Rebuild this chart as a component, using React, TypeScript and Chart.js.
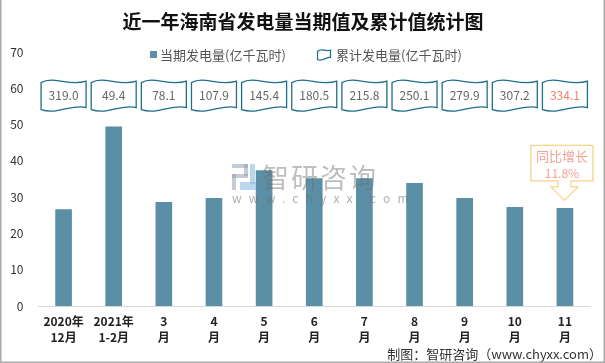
import React, { useEffect, useRef } from "react";
import { Chart, registerables } from "chart.js";

Chart.register(...registerables);

const FONT = "'Noto Sans CJK SC', 'Noto Sans', sans-serif";

const titleText = "近一年海南省发电量当期值及累计值统计图";
const legendCurrent = "当期发电量(亿千瓦时)";
const legendCumulative = "累计发电量(亿千瓦时)";
const footerText = "制图：智研咨询（www.chyxx.com）";
const watermarkName = "智研咨询";
const watermarkUrl = "www.chyxx.com";

const categories: string[][] = [
  ["2020年", "12月"],
  ["2021年", "1-2月"],
  ["3", "月"],
  ["4", "月"],
  ["5", "月"],
  ["6", "月"],
  ["7", "月"],
  ["8", "月"],
  ["9", "月"],
  ["10", "月"],
  ["11", "月"],
];

const currentValues = [26.6, 49.4, 28.6, 29.7, 37.3, 35.1, 35.1, 33.8, 29.7, 27.2, 26.9];
const cumulativeValues = [319.0, 49.4, 78.1, 107.9, 145.4, 180.5, 215.8, 250.1, 279.9, 307.2, 334.1];
const yTickValues = [0, 10, 20, 30, 40, 50, 60, 70];
const growthLines = ["同比增长", "11.8%"];

const BAR_COLOR = "#5b8fa6";
const FLAG_COLOR = "#1f6e8c";

function flagPath(ctx: CanvasRenderingContext2D, x0: number, y0: number, w: number, h: number, a = 3.3) {
  ctx.beginPath();
  ctx.moveTo(x0, y0 + 2);
  ctx.bezierCurveTo(x0 + w * 0.28, y0 - a * 1.6, x0 + w * 0.62, y0 + a * 1.9, x0 + w, y0 + 0.5);
  ctx.lineTo(x0 + w, y0 + h - 2);
  ctx.bezierCurveTo(x0 + w * 0.72, y0 + h - a * 2.0, x0 + w * 0.38, y0 + h + a * 1.7, x0, y0 + h);
  ctx.closePath();
}

const decorPlugin = {
  id: "decor",
  afterDatasetsDraw(chart: any) {
    const ctx: CanvasRenderingContext2D = chart.ctx;
    ctx.save();
    ctx.fillStyle = "rgba(150,160,180,0.55)";
    ctx.fillRect(232, 164, 16, 4);
    ctx.fillRect(244, 164, 4, 12);
    ctx.fillRect(232, 174, 16, 4);
    ctx.fillRect(232, 174, 4, 16);
    ctx.fillStyle = "rgba(140,190,225,0.6)";
    ctx.fillRect(240, 182, 16, 8);
    ctx.fillRect(250, 164, 5, 20);
    ctx.fillStyle = "rgba(110,110,110,0.45)";
    ctx.font = `27px ${FONT}`;
    ctx.textBaseline = "middle";
    ctx.textAlign = "left";
    (ctx as any).letterSpacing = "2px";
    ctx.fillText(watermarkName, 262, 178);
    ctx.font = `12px ${FONT}`;
    (ctx as any).letterSpacing = "7.2px";
    ctx.fillStyle = "rgba(110,110,110,0.55)";
    ctx.fillText(watermarkUrl, 232, 198);
    (ctx as any).letterSpacing = "0px";
    ctx.restore();
  },
  afterDraw(chart: any) {
    const ctx: CanvasRenderingContext2D = chart.ctx;
    const xs = chart.scales.x;
    const ys = chart.scales.y;
    ctx.save();

    ctx.fillStyle = "#111";
    ctx.font = `bold 19px ${FONT}`;
    ctx.textAlign = "center";
    ctx.textBaseline = "middle";
    ctx.fillText(titleText, 303, 22);

    ctx.font = `13px ${FONT}`;
    ctx.textAlign = "left";
    ctx.fillStyle = BAR_COLOR;
    ctx.fillRect(150, 51, 7, 7);
    ctx.fillStyle = "#555";
    ctx.fillText(legendCurrent, 160, 55);
    ctx.strokeStyle = FLAG_COLOR;
    ctx.lineWidth = 1.2;
    flagPath(ctx, 317.5, 49.5, 13, 10, 1.5);
    ctx.stroke();
    ctx.fillStyle = "#555";
    ctx.fillText(legendCumulative, 336, 55);

    const fy = ys.getPixelForValue(58.1);
    const fw = 45;
    const fh = 29;
    cumulativeValues.forEach((v, i) => {
      const cx = xs.getPixelForValue(i);
      const x0 = cx - fw / 2;
      const y0 = fy - fh / 2;
      flagPath(ctx, x0, y0, fw, fh);
      ctx.fillStyle = "#fff";
      ctx.fill();
      ctx.strokeStyle = FLAG_COLOR;
      ctx.lineWidth = 1.3;
      ctx.stroke();
      ctx.fillStyle = i === cumulativeValues.length - 1 ? "#f0826c" : "#666";
      ctx.font = `12px ${FONT}`;
      ctx.textAlign = "center";
      ctx.textBaseline = "middle";
      ctx.fillText(v.toFixed(1), cx, fy + 0.5);
    });

    const li = currentValues.length - 1;
    const lx = xs.getPixelForValue(li);
    const tipY = ys.getPixelForValue(currentValues[li]) - 8;
    const bx0 = lx - 34;
    const bx1 = lx + 28;
    const by0 = tipY - 55;
    const by1 = tipY - 19.5;
    const neckL = lx - 7;
    const neckR = lx + 6;
    const headY = by1 + 6;
    ctx.beginPath();
    ctx.moveTo(bx0, by0);
    ctx.lineTo(bx1, by0);
    ctx.lineTo(bx1, by1);
    ctx.lineTo(neckR, by1);
    ctx.lineTo(neckR, headY);
    ctx.lineTo(lx + 13, headY);
    ctx.lineTo(lx - 0.5, tipY);
    ctx.lineTo(lx - 14, headY);
    ctx.lineTo(neckL, headY);
    ctx.lineTo(neckL, by1);
    ctx.lineTo(bx0, by1);
    ctx.closePath();
    ctx.fillStyle = "#fff";
    ctx.fill();
    ctx.strokeStyle = "#f7d58a";
    ctx.lineWidth = 1.3;
    ctx.stroke();
    ctx.fillStyle = "#f4a294";
    ctx.font = `13px ${FONT}`;
    ctx.textAlign = "center";
    ctx.fillText(growthLines[0], (bx0 + bx1) / 2, by0 + 11);
    ctx.font = `12px ${FONT}`;
    ctx.fillText(growthLines[1], (bx0 + bx1) / 2, by0 + 28);

    ctx.fillStyle = "#333";
    ctx.font = `13px ${FONT}`;
    ctx.textAlign = "right";
    ctx.textBaseline = "middle";
    ctx.fillText(footerText, 602, 354);

    ctx.strokeStyle = "#aaa";
    ctx.lineWidth = 1.5;
    ctx.beginPath();
    ctx.moveTo(0.75, 0);
    ctx.lineTo(0.75, 362.25);
    ctx.lineTo(604.25, 362.25);
    ctx.lineTo(604.25, 0);
    ctx.stroke();

    ctx.restore();
  },
};

export default function App() {
  const ref = useRef<HTMLCanvasElement | null>(null);

  useEffect(() => {
    if (!ref.current) return;
    const chart = new Chart(ref.current, {
      type: "bar",
      data: {
        labels: categories,
        datasets: [
          {
            label: legendCurrent,
            data: currentValues,
            backgroundColor: BAR_COLOR,
            barThickness: 16,
          },
        ],
      },
      options: {
        responsive: false,
        animation: false,
        layout: { padding: { left: 8, right: 15, top: 52, bottom: 17 } },
        plugins: {
          legend: { display: false },
          title: { display: false },
          tooltip: { enabled: false },
        },
        scales: {
          x: {
            grid: { display: false, drawTicks: false },
            border: { display: true, color: "#d9d9d9", width: 1 },
            ticks: {
              color: "#222",
              font: { family: FONT, size: 12, weight: "bold", lineHeight: 1.33 },
              padding: 7,
              maxRotation: 0,
              autoSkip: false,
            },
            afterFit: (s: any) => {
              s.height = 40;
            },
          },
          y: {
            min: 0,
            max: 70,
            grid: { display: false, drawTicks: false },
            border: { display: false },
            afterBuildTicks: (s: any) => {
              s.ticks = yTickValues.map((v) => ({ value: v }));
            },
            ticks: {
              color: "#333",
              font: { family: FONT, size: 12 },
              padding: 15,
            },
            afterFit: (s: any) => {
              s.width = 30.5;
            },
          },
        },
      },
      plugins: [decorPlugin],
    } as any);
    return () => chart.destroy();
  }, []);

  return (
    <div style={{ position: "absolute", left: 0, top: 0, width: 605, height: 363, background: "#fff" }}>
      <canvas ref={ref} width={605} height={363} />
    </div>
  );
}
